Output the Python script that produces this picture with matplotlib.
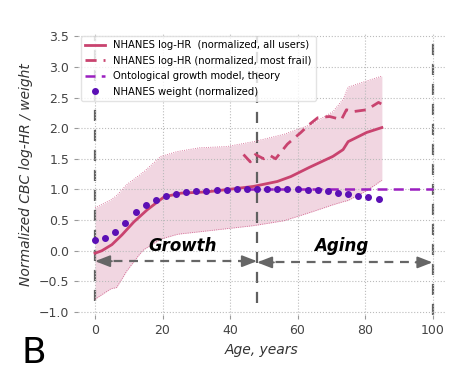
import matplotlib
matplotlib.use("Agg")
import matplotlib.pyplot as plt

# NHANES log-HR, all users
age_all = [0, 2, 5, 8, 11.5, 15.5, 20.5, 25.5, 33, 41, 47, 54, 58, 63.5, 70.5, 73.5, 75, 80.5, 85]
hr_all = [-0.04, 0.0, 0.1, 0.26, 0.47, 0.67, 0.88, 0.94, 0.96, 1.01, 1.05, 1.13, 1.21, 1.36, 1.54, 1.65, 1.78, 1.93, 2.01]

# NHANES log-HR, most frail
age_frail = [44, 46, 47.5, 50, 52, 53.5, 57, 61, 63.5, 66, 69.5, 73, 74.5, 76.5, 80.5, 84, 85]
hr_frail = [1.57, 1.45, 1.57, 1.5, 1.55, 1.5, 1.74, 1.93, 2.06, 2.17, 2.19, 2.14, 2.3, 2.27, 2.3, 2.42, 2.39]

# confidence band
band_age = [0, 4.7, 6.4, 9.4, 13.3, 14.5, 19.5, 24.5, 31, 39, 47, 56, 64, 70.5, 73.5, 75, 80.5, 85]
band_hi = [0.7, 0.83, 0.9, 1.08, 1.24, 1.29, 1.54, 1.62, 1.68, 1.7, 1.78, 1.9, 2.06, 2.27, 2.47, 2.67, 2.77, 2.85]
band_lo = [-0.79, -0.62, -0.6, -0.33, -0.05, 0.02, 0.19, 0.27, 0.31, 0.36, 0.41, 0.49, 0.63, 0.75, 0.8, 0.82, 0.98, 1.15]

# theory curve (visible part)
age_theory = [45, 60, 80, 100]
theory = [1.0, 1.0, 1.0, 1.0]

# NHANES weight, every 3 years
age_w = list(range(0, 85, 3))
weight = [0.17, 0.21, 0.3, 0.46, 0.63, 0.75, 0.83, 0.9, 0.93, 0.96, 0.97, 0.98, 0.99, 0.99,
          1.0, 1.0, 1.0, 1.0, 1.0, 1.0, 1.0, 0.99, 0.985, 0.97, 0.95, 0.92, 0.9, 0.87, 0.84]

vline_x = [0, 48, 100]
vline_bottom = [-0.82, -0.85, -1.05]

# phase arrows: (start, end, y)
phases = [(0, 48, -0.17), (48, 100, -0.19)]

fig = plt.figure(figsize=(4.68, 3.9), dpi=100)
ax = fig.add_axes([0.167, 0.192, 0.786, 0.723])

ax.fill_between(band_age, band_lo, band_hi, color="#d98cab", alpha=0.35, lw=0)
ax.plot(band_age, band_hi, color="#d05a88", lw=0.6, ls=":")
ax.plot(band_age, band_lo, color="#d05a88", lw=0.6, ls=":")

ax.plot(age_all, hr_all, color="#c9436f", lw=2, label="NHANES log-HR  (normalized, all users)")
ax.plot(age_frail, hr_frail, color="#c9436f", lw=2, ls=(0, (4, 2.5)),
        label="NHANES log-HR (normalized, most frail)")
ax.plot(age_theory, theory, color="#9b1fc0", lw=1.8, ls=(0, (4, 2.5)),
        label="Ontological growth model, theory")
ax.plot(age_w, weight, "o", color="#5b0fb5", ms=4, label="NHANES weight (normalized)")

ax.vlines(vline_x, vline_bottom, 3.5, color="#606060", lw=1.6, ls=(0, (5, 4)), zorder=1)

head = dict(arrowstyle="-|>,head_length=0.9,head_width=0.35", color="#666666", lw=1.4,
            shrinkA=0, shrinkB=0)
for x0, x1, y in phases:
    ax.plot([x0 + 1, x1 - 1], [y, y], color="#666666", lw=1.6, ls=(0, (4, 3)))
    ax.annotate("", xy=(x0, y), xytext=(x0 + 5, y), arrowprops=head)
    ax.annotate("", xy=(x1, y), xytext=(x1 - 5, y), arrowprops=head)

ax.text(26, 0.08, "Growth", fontsize=12, fontweight="bold", style="italic", ha="center", va="center")
ax.text(73, 0.08, "Aging", fontsize=12, fontweight="bold", style="italic", ha="center", va="center")

ax.set_xlim(-5, 104)
ax.set_ylim(-1.05, 3.55)
ax.set_xticks([0, 20, 40, 60, 80, 100])
ax.set_yticks([-1.0, -0.5, 0.0, 0.5, 1.0, 1.5, 2.0, 2.5, 3.0, 3.5])
ax.grid(True, ls=":", color="#bbbbbb", lw=0.8)
for s in ax.spines.values():
    s.set_visible(False)
ax.tick_params(colors="#444444", labelsize=9, length=3, color="#999999")
ax.set_xlabel("Age, years", style="italic", fontsize=10, color="#333333")
ax.set_ylabel("Normalized CBC log-HR / weight", style="italic", fontsize=10, color="#333333")

leg = ax.legend(loc="upper left", fontsize=7.2, frameon=True, handlelength=2.0,
                borderaxespad=0.3, labelspacing=0.55)
leg.get_frame().set_edgecolor("#dddddd")

fig.text(0.045, 0.07, "B", fontsize=26)

fig.savefig("out.png", dpi=100)
